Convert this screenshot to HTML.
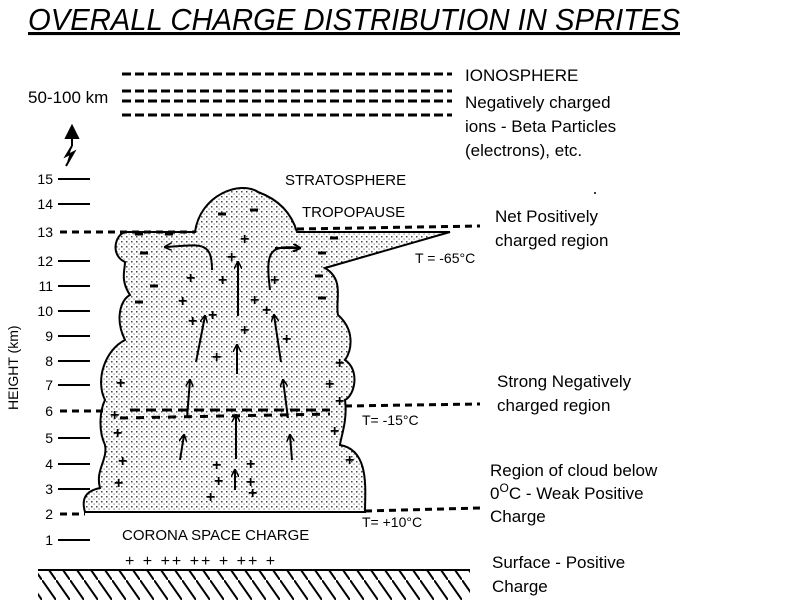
<!DOCTYPE html>
<html><head><style>body{margin:0;background:#fff}svg{display:block}</style></head><body>
<svg width="800" height="600" xmlns="http://www.w3.org/2000/svg" font-family="Liberation Sans, sans-serif">
<defs>
<pattern id="dots" width="5" height="5" patternUnits="userSpaceOnUse">
<rect x="1" y="1" width="1.5" height="1.5" fill="#444"/><rect x="3.5" y="3.5" width="1.2" height="1.2" fill="#777"/>
</pattern>
<pattern id="hatch" width="14" height="20" patternUnits="userSpaceOnUse">
<line x1="0" y1="0" x2="14" y2="20" stroke="#000" stroke-width="2"/>
</pattern>
<marker id="ah" markerWidth="8" markerHeight="8" refX="7" refY="4" orient="auto" markerUnits="userSpaceOnUse"><path d="M0 0 L8 4 L0 8" fill="none" stroke="#000" stroke-width="1.5"/></marker>
</defs>
<text x="28" y="30" font-size="31" font-style="italic" text-decoration="underline" textLength="652" lengthAdjust="spacingAndGlyphs">OVERALL CHARGE DISTRIBUTION IN SPRITES</text>
<g stroke="#000" stroke-width="3" stroke-dasharray="9,4">
<line x1="122" y1="74" x2="452" y2="74"/><line x1="122" y1="91" x2="452" y2="91"/><line x1="122" y1="101" x2="452" y2="101"/><line x1="122" y1="115" x2="452" y2="115"/>
</g>
<g font-size="17">
<text x="465" y="81">IONOSPHERE</text>
<text x="28" y="103">50-100 km</text>
<text x="465" y="108">Negatively charged</text>
<text x="465" y="132">ions - Beta Particles</text>
<text x="465" y="156">(electrons), etc.</text>
<text x="495" y="222">Net Positively</text>
<text x="495" y="246">charged region</text>
<text x="497" y="387">Strong Negatively</text>
<text x="497" y="411">charged region</text>
<text x="490" y="476">Region of cloud below</text>
<text x="490" y="499">0<tspan dy="-7" font-size="12">O</tspan><tspan dy="7">C - Weak Positive</tspan></text>
<text x="490" y="522">Charge</text>
<text x="492" y="568">Surface - Positive</text>
<text x="492" y="592">Charge</text>
</g>
<path d="M72 146 L72 132 M66 138 L72 126 L78 138Z M72 146 L66 156 L74 152 L66 166" stroke="#000" stroke-width="2" fill="#000"/>
<g font-size="14" text-anchor="end">
<text x="53" y="184">15</text><text x="53" y="209">14</text><text x="53" y="237">13</text><text x="53" y="266">12</text><text x="53" y="291">11</text><text x="53" y="316">10</text><text x="53" y="341">9</text><text x="53" y="366">8</text><text x="53" y="390">7</text><text x="53" y="416">6</text><text x="53" y="443">5</text><text x="53" y="469">4</text><text x="53" y="494">3</text><text x="53" y="519">2</text><text x="53" y="545">1</text>
</g>
<g stroke="#000" stroke-width="2">
<line x1="58" y1="179" x2="90" y2="179"/><line x1="58" y1="204" x2="90" y2="204"/><line x1="58" y1="261" x2="90" y2="261"/><line x1="58" y1="286" x2="90" y2="286"/><line x1="58" y1="311" x2="90" y2="311"/><line x1="58" y1="336" x2="90" y2="336"/><line x1="58" y1="361" x2="90" y2="361"/><line x1="58" y1="385" x2="90" y2="385"/><line x1="58" y1="438" x2="90" y2="438"/><line x1="58" y1="464" x2="90" y2="464"/><line x1="58" y1="489" x2="90" y2="489"/><line x1="58" y1="540" x2="90" y2="540"/>
</g>
<text transform="translate(18,410) rotate(-90)" font-size="14">HEIGHT (km)</text>
<text x="285" y="185" font-size="15">STRATOSPHERE</text>
<text x="302" y="217" font-size="15">TROPOPAUSE</text>
<path d="M195 232 C200 195 240 180 258 192 C280 200 292 215 297 232 L450 232 L325 268 C345 280 335 300 338 315 C355 330 352 350 345 360 C360 370 355 395 345 400 C348 420 340 440 340 445 C370 450 365 490 365 512 L85 512 C80 495 90 490 100 488 C95 470 108 460 105 445 C98 430 100 410 105 400 C95 380 105 350 125 340 C115 320 120 300 130 295 C120 280 125 270 125 262 C110 255 115 235 125 232 Z" fill="url(#dots)" stroke="#000" stroke-width="2"/>
<g stroke="#000" stroke-width="3" stroke-dasharray="7,5">
<line x1="60" y1="232" x2="195" y2="232"/><line x1="297" y1="229" x2="480" y2="226"/>
<line x1="60" y1="411" x2="105" y2="411"/><line x1="345" y1="406" x2="480" y2="404"/>
<line x1="60" y1="514" x2="85" y2="514"/><line x1="365" y1="511" x2="480" y2="508"/>
</g>
<g stroke="#000" stroke-width="3">
<line x1="130" y1="410" x2="330" y2="410" stroke-dasharray="10,6"/>
<line x1="120" y1="418" x2="330" y2="414" stroke-dasharray="8,8"/>
</g>
<g font-size="14"><text x="415" y="263">T = -65°C</text><text x="362" y="425">T= -15°C</text><text x="362" y="527">T= +10°C</text></g>
<text x="122" y="540" font-size="15">CORONA SPACE CHARGE</text>
<text x="125" y="566" font-size="16" letter-spacing="2">+ + ++ ++ + ++ +</text>
<line x1="38" y1="570" x2="470" y2="570" stroke="#000" stroke-width="2"/>
<rect x="38" y="571" width="432" height="29" fill="url(#hatch)"/>
<g stroke="#000" stroke-width="2" fill="none" marker-end="url(#ah)">
<path d="M212 270 C212 240 200 245 165 247"/><path d="M270 290 C265 250 270 245 300 248" marker-end="" /><path d="M275 248 L300 248"/>
<line x1="238" y1="316" x2="238" y2="262"/><line x1="237" y1="374" x2="237" y2="345"/>
<line x1="196" y1="362" x2="205" y2="316"/><line x1="281" y1="362" x2="274" y2="315"/>
<line x1="187" y1="418" x2="190" y2="380"/><line x1="288" y1="418" x2="283" y2="380"/>
<line x1="236" y1="459" x2="236" y2="415"/><line x1="180" y1="460" x2="184" y2="435"/><line x1="292" y1="460" x2="290" y2="435"/>
<line x1="235" y1="490" x2="235" y2="470"/>
</g>
<g font-size="16" font-weight="bold">
<text x="240" y="244">+</text><text x="227" y="262">+</text><text x="186" y="283">+</text><text x="218" y="285">+</text><text x="270" y="285">+</text><text x="178" y="306">+</text><text x="250" y="305">+</text><text x="208" y="320">+</text><text x="188" y="326">+</text><text x="262" y="315">+</text><text x="240" y="335">+</text><text x="282" y="344">+</text><text x="212" y="362">+</text><text x="116" y="388">+</text><text x="335" y="368">+</text><text x="325" y="389">+</text><text x="335" y="406">+</text><text x="110" y="420">+</text><text x="113" y="438">+</text><text x="330" y="436">+</text><text x="118" y="466">+</text><text x="345" y="465">+</text><text x="114" y="488">+</text><text x="212" y="470">+</text><text x="246" y="469">+</text><text x="214" y="486">+</text><text x="246" y="487">+</text><text x="206" y="502">+</text><text x="248" y="498">+</text>
</g>
<g stroke="#000" stroke-width="3">
<line x1="218" y1="214" x2="226" y2="214"/><line x1="250" y1="210" x2="258" y2="210"/><line x1="165" y1="234" x2="173" y2="234"/><line x1="135" y1="234" x2="143" y2="234"/><line x1="330" y1="238" x2="338" y2="238"/><line x1="140" y1="253" x2="148" y2="253"/><line x1="318" y1="253" x2="326" y2="253"/><line x1="150" y1="286" x2="158" y2="286"/><line x1="315" y1="276" x2="323" y2="276"/><line x1="135" y1="302" x2="143" y2="302"/><line x1="318" y1="298" x2="326" y2="298"/>
</g>
<circle cx="595" cy="193" r="1" fill="#000"/>
</svg>
</body></html>
